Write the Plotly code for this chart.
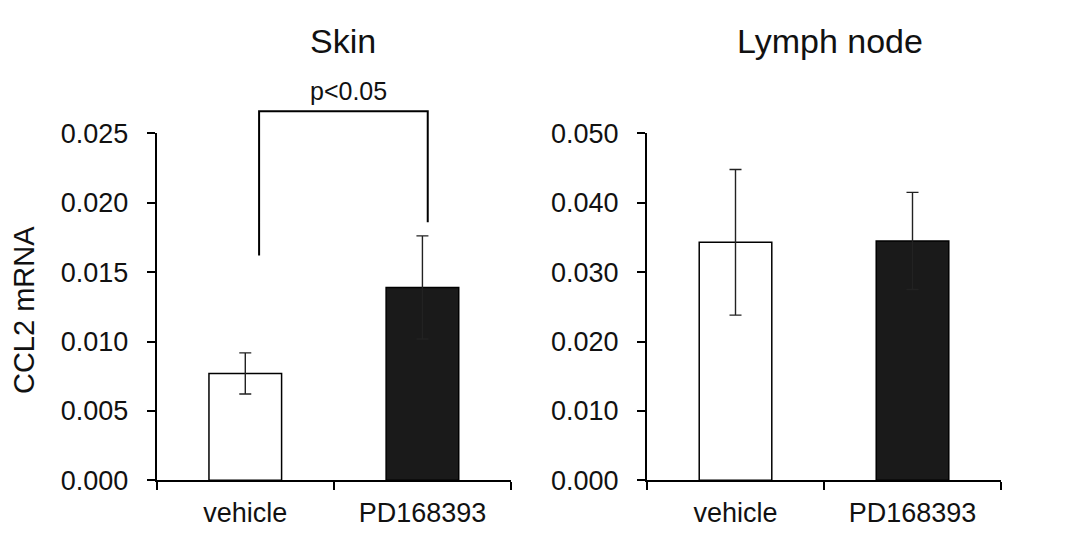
import plotly.graph_objects as go

categories = ["vehicle", "PD168393"]
skin_values = [0.0077, 0.0139]
skin_errors = [0.00148, 0.00372]
lymph_values = [0.0343, 0.0345]
lymph_errors = [0.0105, 0.0070]
bar_colors = ["#ffffff", "#1a1a1a"]
titles = ["Skin", "Lymph node"]
y_title = "CCL2 mRNA"
sig_label = "p<0.05"
skin_range = [0, 0.025]
lymph_range = [0, 0.05]
bracket_y = [0.0162, 0.0266, 0.0186]

FONT = "Liberation Sans, Arial, sans-serif"
W, H = 1073, 537
OFF = 8  # page body margin compensation

fig = go.Figure()
fig.add_trace(go.Bar(
    x=categories, y=skin_values, width=0.41,
    marker=dict(color=bar_colors, line=dict(color="#000000", width=1.5)),
    error_y=dict(type="data", array=skin_errors, color="#222222", thickness=1.4, width=6),
    xaxis="x", yaxis="y", showlegend=False,
))
fig.add_trace(go.Bar(
    x=categories, y=lymph_values, width=0.41,
    marker=dict(color=bar_colors, line=dict(color="#000000", width=1.5)),
    error_y=dict(type="data", array=lymph_errors, color="#222222", thickness=1.4, width=6),
    xaxis="x2", yaxis="y2", showlegend=False,
))

def px_x(p):
    return (p - OFF) / W

def px_y(p):
    return 1 - (p - OFF) / H

dom_y = [px_y(492.3), px_y(125)]
xd1 = [px_x(156.7), px_x(511)]
xd2 = [px_x(647), px_x(1001)]

xcommon = dict(type="category", range=[-0.5, 1.5], showline=True, linecolor="#000000", linewidth=2,
               ticks="outside", tickson="boundaries", ticklen=8, tickwidth=2, tickcolor="#000000",
               ticklabelstandoff=7,
               tickfont=dict(family=FONT, size=27, color="#111111"), showgrid=False, zeroline=False,
               fixedrange=True)
ycommon = dict(showline=True, linecolor="#000000", linewidth=2, ticks="outside", ticklen=8,
               tickwidth=2, tickcolor="#000000", tickformat=".3f", ticklabelstandoff=13,
               tickfont=dict(family=FONT, size=27, color="#111111"), showgrid=False, zeroline=False)

fig.update_layout(
    width=W, height=H, margin=dict(l=0, r=0, t=0, b=0),
    paper_bgcolor="#ffffff", plot_bgcolor="#ffffff",
    xaxis=dict(domain=xd1, anchor="y", **xcommon),
    yaxis=dict(domain=dom_y, anchor="x", range=skin_range, dtick=0.005, **ycommon),
    xaxis2=dict(domain=xd2, anchor="y2", **xcommon),
    yaxis2=dict(domain=dom_y, anchor="x2", range=lymph_range, dtick=0.01, **ycommon),
)

# significance bracket (converted to domain fractions from data values)
def cat_to_dom(c):
    return (c + 0.5) / 2.0

yd = [v / skin_range[1] for v in bracket_y]
xl, xr = cat_to_dom(0.078), cat_to_dom(1.03)
fig.add_shape(type="path", xref="x domain", yref="y domain",
              path=f"M {xl},{yd[0]} L {xl},{yd[1]} L {xr},{yd[1]} L {xr},{yd[2]}",
              line=dict(color="#000000", width=2))
fig.add_annotation(xref="x domain", yref="y domain", x=cat_to_dom(0.585), y=yd[1],
                   yanchor="bottom", yshift=4, text=sig_label, showarrow=False,
                   font=dict(family=FONT, size=25, color="#111111"))

# titles
fig.add_annotation(xref="x domain", yref="paper", x=0.527, y=px_y(27), yanchor="middle",
                   text=titles[0], showarrow=False, font=dict(family=FONT, size=34, color="#111111"))
fig.add_annotation(xref="x2 domain", yref="paper", x=0.518, y=px_y(27), yanchor="middle",
                   text=titles[1], showarrow=False, font=dict(family=FONT, size=34, color="#111111"))
fig.add_annotation(xref="paper", yref="paper", x=px_x(24), y=px_y(312), xanchor="center",
                   yanchor="middle", textangle=-90, text=y_title, showarrow=False,
                   font=dict(family=FONT, size=29, color="#111111"))

fig.write_html("out.html")
